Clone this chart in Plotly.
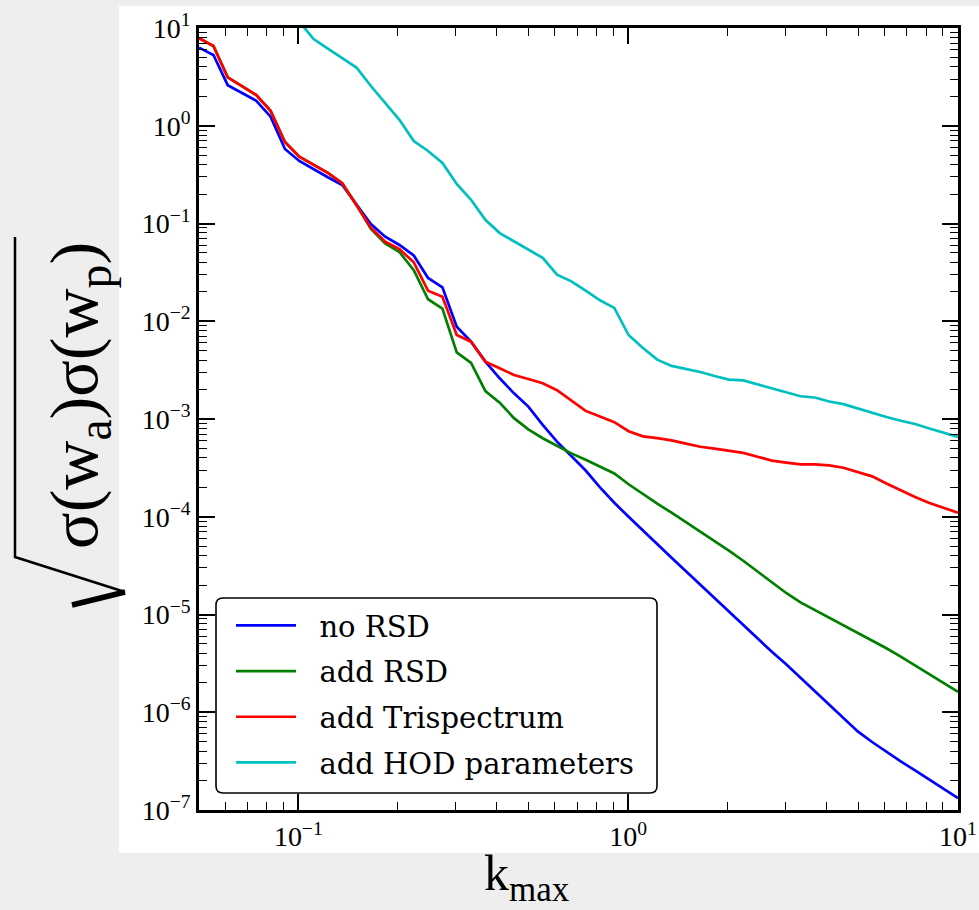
import plotly.graph_objects as go

# ---------------- data ----------------
k_max = [0.0500, 0.0553, 0.0611, 0.0675, 0.0746, 0.0824, 0.0911, 0.1007, 0.1113, 0.1229,
         0.1359, 0.1501, 0.1660, 0.1834, 0.2026, 0.2239, 0.2474, 0.2735, 0.3022, 0.3340,
         0.3691, 0.4079, 0.4508, 0.4982, 0.5508, 0.6085, 0.6726, 0.7434, 0.8215, 0.9079,
         1.003, 1.109, 1.225, 1.354, 1.497, 1.654, 1.828, 2.020, 2.233, 2.467,
         2.727, 3.013, 3.331, 3.681, 4.068, 4.495, 4.968, 5.490, 6.067, 6.705,
         7.410, 8.189, 9.050, 10.0]

no_rsd = [6.3, 5.3, 2.6, 2.15, 1.8, 1.24, 0.578, 0.436, 0.356, 0.297,
          0.248, 0.155, 0.0989, 0.0733, 0.0603, 0.0471, 0.0277, 0.0222, 0.0088, 0.00618,
          0.00386, 0.00261, 0.00183, 0.00134, 8.7e-4, 5.86e-4, 4.14e-4, 2.97e-4, 2.0e-4, 1.39e-4,
          1.0e-4, 7.2e-5, 5.25e-5, 3.81e-5, 2.77e-5, 2.02e-5, 1.47e-5, 1.07e-5, 7.73e-6, 5.62e-6,
          4.15e-6, 3.10e-6, 2.26e-6, 1.65e-6, 1.20e-6, 8.73e-7, 6.37e-7, 4.96e-7, 3.92e-7, 3.14e-7,
          2.54e-7, 2.04e-7, 1.64e-7, 1.32e-7]

add_rsd = [7.85, 6.54, 3.13, 2.53, 2.06, 1.42, 0.682, 0.482, 0.396, 0.330,
           0.258, 0.155, 0.0879, 0.0624, 0.0511, 0.0333, 0.0168, 0.0135, 4.81e-3, 3.74e-3,
           1.93e-3, 1.47e-3, 1.02e-3, 7.83e-4, 6.36e-4, 5.34e-4, 4.45e-4, 3.83e-4, 3.27e-4, 2.77e-4,
           2.15e-4, 1.70e-4, 1.36e-4, 1.10e-4, 8.84e-5, 7.06e-5, 5.63e-5, 4.51e-5, 3.55e-5, 2.75e-5,
           2.14e-5, 1.66e-5, 1.33e-5, 1.11e-5, 9.29e-6, 7.81e-6, 6.58e-6, 5.45e-6, 4.51e-6, 3.70e-6,
           3.02e-6, 2.44e-6, 1.99e-6, 1.62e-6]

add_trispectrum = [7.85, 6.54, 3.13, 2.53, 2.06, 1.42, 0.682, 0.482, 0.396, 0.330,
                   0.258, 0.155, 0.0906, 0.0651, 0.0548, 0.0401, 0.0205, 0.0178, 0.00723, 0.00618,
                   0.00386, 0.00330, 0.00282, 0.00257, 0.00232, 0.00197, 0.00156, 0.00121, 0.00106, 9.27e-4,
                   7.5e-4, 6.65e-4, 6.36e-4, 6.04e-4, 5.6e-4, 5.2e-4, 4.97e-4, 4.75e-4, 4.50e-4, 4.11e-4,
                   3.75e-4, 3.58e-4, 3.44e-4, 3.44e-4, 3.35e-4, 3.17e-4, 2.87e-4, 2.59e-4, 2.19e-4, 1.86e-4,
                   1.59e-4, 1.38e-4, 1.23e-4, 1.10e-4]

add_hod = [None, None, None, None, None, None, None, 11.6, 7.7, 6.14,
           4.89, 3.94, 2.55, 1.69, 1.15, 0.698, 0.552, 0.416, 0.254, 0.175,
           0.109, 0.0798, 0.0655, 0.0545, 0.0445, 0.0300, 0.0256, 0.0206, 0.0164, 0.0137,
           7.23e-3, 5.33e-3, 4.05e-3, 3.49e-3, 3.25e-3, 3.03e-3, 2.75e-3, 2.53e-3, 2.48e-3, 2.27e-3,
           2.08e-3, 1.89e-3, 1.71e-3, 1.66e-3, 1.51e-3, 1.42e-3, 1.28e-3, 1.15e-3, 1.05e-3, 9.6e-4,
           8.89e-4, 8.0e-4, 7.24e-4, 6.56e-4]

series_names = ["no RSD", "add RSD", "add Trispectrum", "add HOD parameters"]
series_values = [no_rsd, add_rsd, add_trispectrum, add_hod]
series_colors = ["#0000ff", "#008000", "#ff0000", "#00bfbf"]

x_tick_vals = [0.1, 1, 10]
x_tick_text = ["10<sup>−1</sup>", "10<sup>0</sup>", "10<sup>1</sup>"]
y_tick_vals = [1e-7, 1e-6, 1e-5, 1e-4, 1e-3, 1e-2, 1e-1, 1, 10]
y_tick_text = ["10<sup>−7</sup>", "10<sup>−6</sup>", "10<sup>−5</sup>", "10<sup>−4</sup>",
               "10<sup>−3</sup>", "10<sup>−2</sup>", "10<sup>−1</sup>", "10<sup>0</sup>",
               "10<sup>1</sup>"]

x_range_log = [-1.30103, 1.0]
y_range_log = [-7, 1]

# ---------------- layout geometry ----------------
W, H = 979, 910
ML, MR, MT, MB = 199, 21, 28, 100
PW, PH = W - ML - MR, H - MT - MB


def px(xp):
    return (xp - ML) / PW


def py(yp):
    return (H - MB - yp) / PH


FONT = "Liberation Serif"
LEG_FONT = "DejaVu Serif"

fig = go.Figure()
for name, vals, col in zip(series_names, series_values, series_colors):
    fig.add_trace(go.Scatter(
        x=k_max, y=vals, mode="lines", name="\u00a0\u00a0" + name, legendgroup=name,
        line=dict(color=col, width=2.7),
    ))

axis_common = dict(
    type="log", showgrid=False, zeroline=False, automargin=False,
    showline=True, linecolor="black", linewidth=2.5, mirror="allticks",
    ticks="inside", ticklen=16, tickwidth=1.5, tickcolor="black",
    tickmode="array",
    tickfont=dict(family=FONT, size=28, color="black"),
    minor=dict(ticks="inside", ticklen=8, tickwidth=1.2, tickcolor="black", dtick="D1", showgrid=False),
)

fig.update_xaxes(range=x_range_log, tickvals=x_tick_vals, ticktext=x_tick_text, **axis_common)
fig.update_yaxes(range=y_range_log, tickvals=y_tick_vals, ticktext=y_tick_text, **axis_common)

# white panel behind the chart
shapes = [dict(type="rect", xref="paper", yref="paper", layer="below",
               x0=px(119), x1=px(979), y0=py(853), y1=py(6),
               fillcolor="white", line=dict(width=0))]

# legend frame (rounded)
lx0, lx1, ly0, ly1, r = 216, 657, 598, 793, 7
rx, ry = r / PW, r / PH
X0, X1, Y0, Y1 = px(lx0), px(lx1), py(ly1), py(ly0)
path = (f"M{X0+rx},{Y0} L{X1-rx},{Y0} Q{X1},{Y0} {X1},{Y0+ry} "
        f"L{X1},{Y1-ry} Q{X1},{Y1} {X1-rx},{Y1} L{X0+rx},{Y1} Q{X0},{Y1} {X0},{Y1-ry} "
        f"L{X0},{Y0+ry} Q{X0},{Y0} {X0+rx},{Y0} Z")
shapes.append(dict(type="path", path=path, xref="paper", yref="paper", layer="above",
                   fillcolor="white", line=dict(color="black", width=1.6)))

# radical sign of the y-axis label
rad = f"M{px(15)},{py(237)} L{px(15)},{py(557)} L{px(125)},{py(592)}"
shapes.append(dict(type="path", path=rad, xref="paper", yref="paper",
                   line=dict(color="black", width=2.5)))
shapes.append(dict(type="line", xref="paper", yref="paper",
                   x0=px(125), y0=py(592), x1=px(72), y1=py(605),
                   line=dict(color="black", width=5.5)))

annotations = [
    dict(text="σ(w<sub>a</sub>)σ(w<sub>p</sub>)", textangle=-90, showarrow=False,
         xref="paper", yref="paper", x=px(78), y=py(396), xanchor="center", yanchor="middle",
         font=dict(family=FONT, size=68, color="black")),
    dict(text="k<sub>max</sub>", showarrow=False,
         xref="paper", yref="paper", x=px(527), y=py(877), xanchor="center", yanchor="middle",
         font=dict(family=FONT, size=50, color="black")),
]

fig.update_layout(
    width=W, height=H, autosize=False,
    margin=dict(l=ML, r=MR, t=MT, b=MB),
    paper_bgcolor="#eeeeee", plot_bgcolor="white",
    shapes=shapes, annotations=annotations,
    showlegend=True,
    legend=dict(x=px(231), y=py(600), xanchor="left", yanchor="top",
                bgcolor="rgba(0,0,0,0)", borderwidth=0,
                font=dict(family=LEG_FONT, size=29, color="black"),
                tracegroupgap=5, itemwidth=60),
)

fig.write_html("out.html", config={"displayModeBar": False},
               post_script="document.body.style.margin='0px';")
